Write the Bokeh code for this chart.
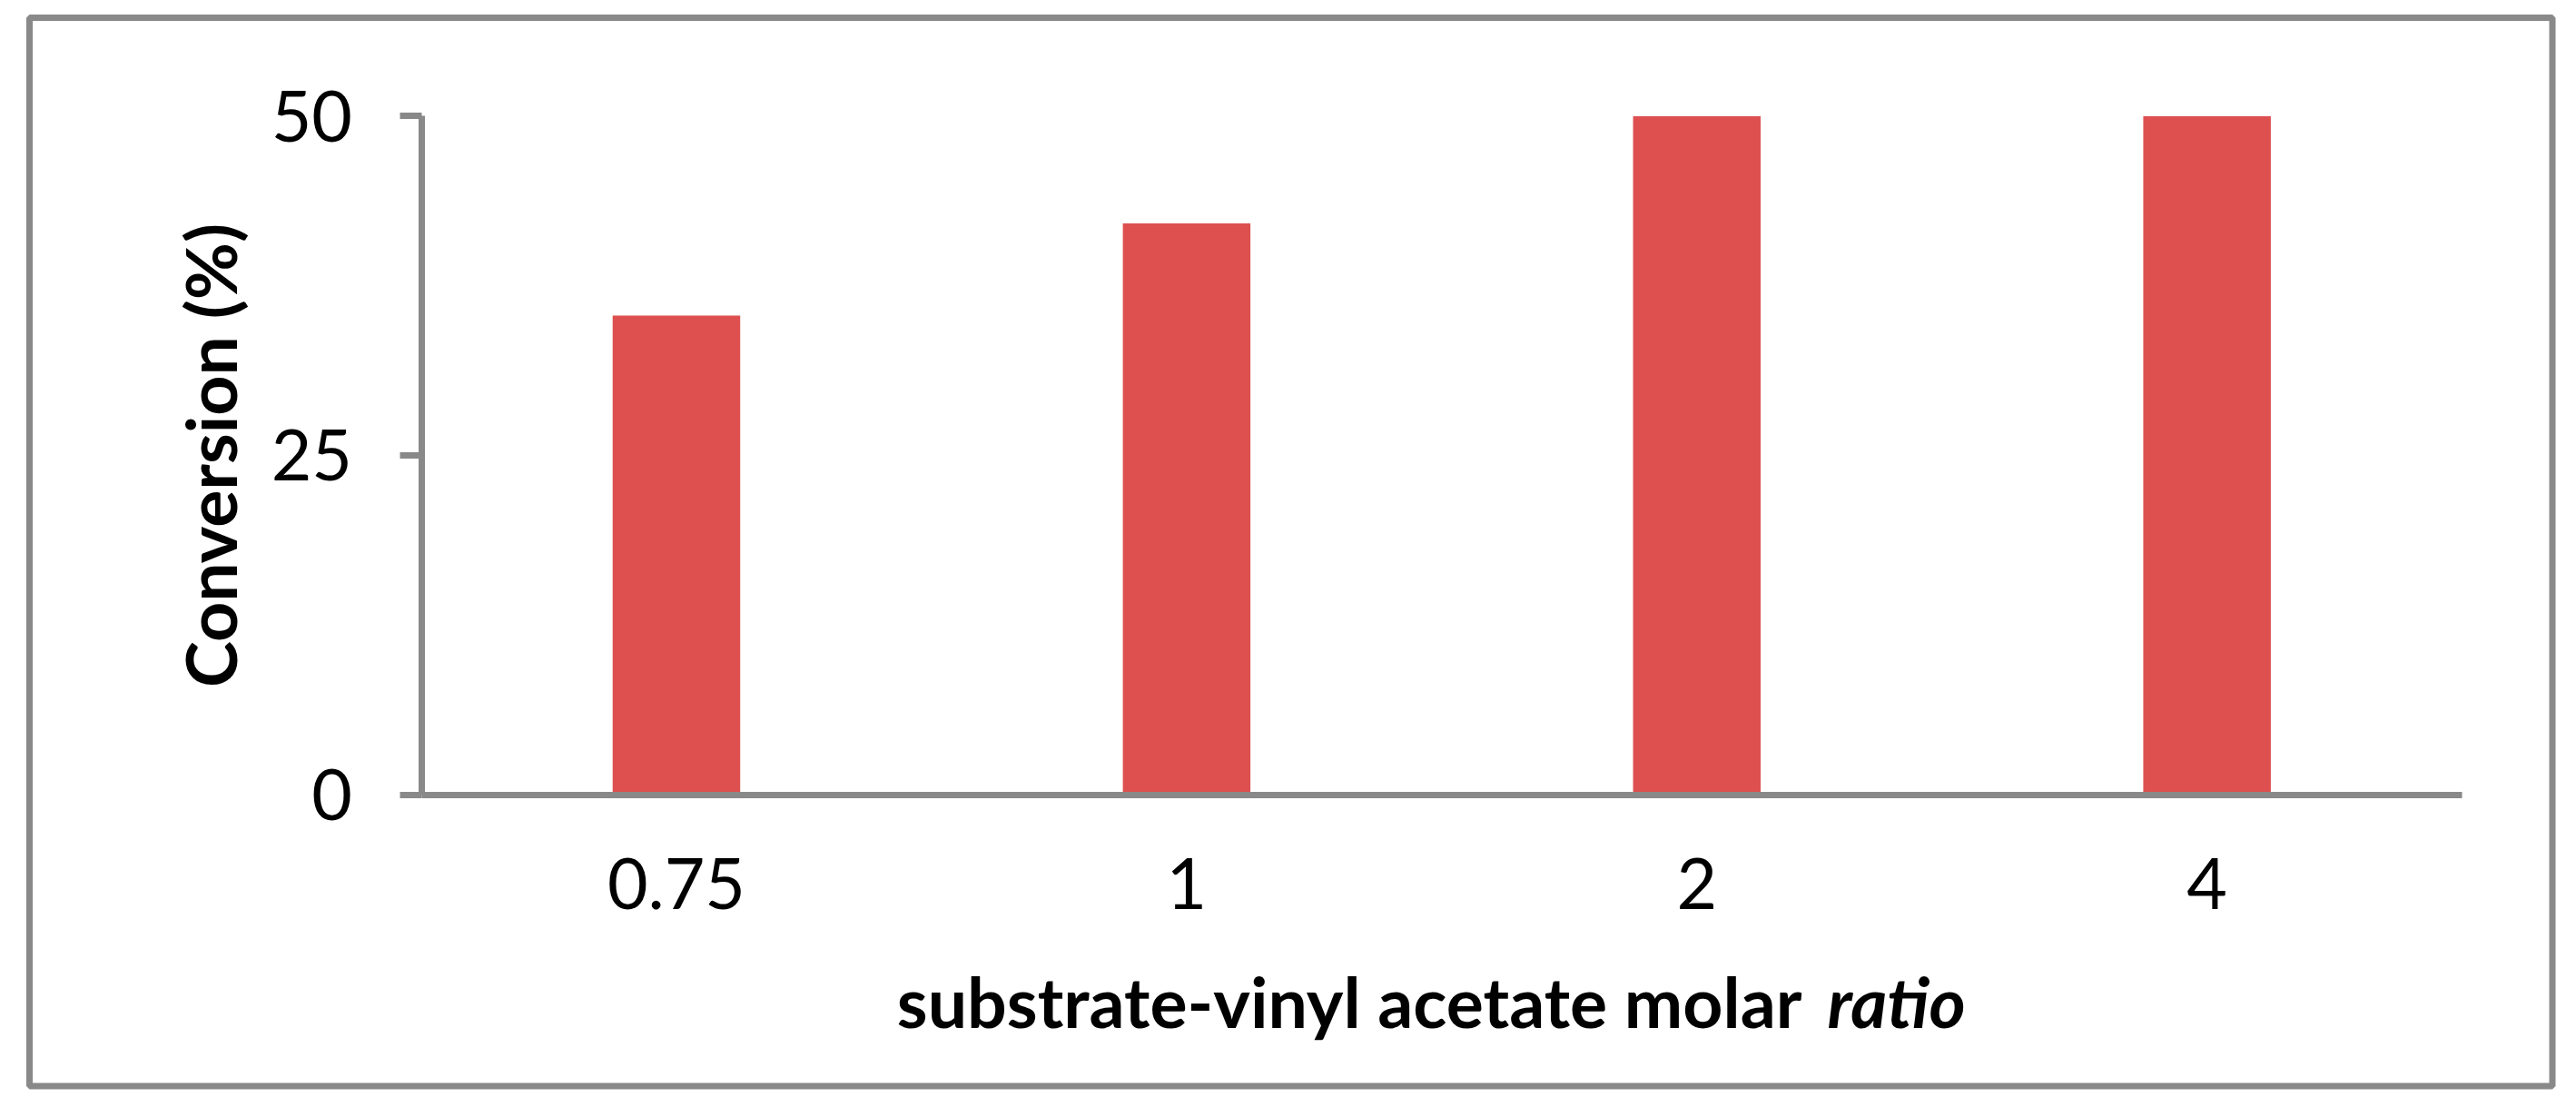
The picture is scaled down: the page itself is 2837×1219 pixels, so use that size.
from bokeh.plotting import figure
from bokeh.models import Range1d, FixedTicker, Label, BoxAnnotation, ColumnDataSource, LinearAxis
from bokeh.embed import file_html
from bokeh.resources import INLINE

# ---- data ----
ratios = ["0.75", "1", "2", "4"]
conversion = [35.3, 42.1, 50.0, 50.0]
y_ticks = [0, 25, 50]
x_title_main = "substrate-vinyl acetate molar"
x_title_italic = "ratio"
y_title = "Conversion (%)"

# ---- style ----
GRAY = "#898989"
BAR = "#DE5050"
FONT = "Lato"
TS = "77px"

W, H = 2820, 1200
# category slots are centred at i + 0.5 on a numeric axis
xpos = [i + 0.5 for i in range(len(ratios))]

src = ColumnDataSource(dict(x=xpos, top=conversion))

p = figure(width=W, height=H, x_range=Range1d(-0.8249, 4.1938), y_range=Range1d(-21.787, 58.534),
           output_backend="svg", toolbar_location=None, x_axis_location=None, y_axis_location=None,
           min_border_left=0, min_border_right=0, min_border_top=0, min_border_bottom=0)
p.background_fill_color = "white"
p.border_fill_color = "white"
p.outline_line_color = None
p.xgrid.visible = False
p.ygrid.visible = False

p.vbar(x="x", top="top", width=0.25, source=src, fill_color=BAR, line_color=None)

# x axis (fixed at y = 0)
xa = LinearAxis(fixed_location=0, bounds=(0, len(ratios)),
                ticker=FixedTicker(ticks=xpos),
                major_label_overrides={x: r for x, r in zip(xpos, ratios)})
xa.axis_line_color = GRAY
xa.axis_line_width = 7
xa.major_tick_line_color = None
xa.minor_tick_line_color = None
xa.major_tick_out = 0
xa.major_tick_in = 0
xa.major_label_standoff = 70
xa.major_label_text_font = FONT
xa.major_label_text_font_size = TS
xa.major_label_text_color = "black"
p.add_layout(xa, "below")

# y axis (fixed at x = 0)
ya = LinearAxis(fixed_location=0, bounds=(0, 50), ticker=FixedTicker(ticks=y_ticks))
ya.axis_line_color = GRAY
ya.axis_line_width = 7
ya.major_tick_line_color = GRAY
ya.major_tick_line_width = 7
ya.major_tick_out = 24
ya.major_tick_in = 0
ya.minor_tick_line_color = None
ya.major_label_standoff = 52
ya.major_label_text_font = FONT
ya.major_label_text_font_size = TS
ya.major_label_text_color = "black"
ya.axis_label = y_title
ya.axis_label_text_font = FONT
ya.axis_label_text_font_size = TS
ya.axis_label_text_font_style = "bold"
ya.axis_label_text_color = "black"
ya.axis_label_standoff = 19
p.add_layout(ya, "left")

# x title (mixed styles)
p.add_layout(Label(x=1984, y=99, x_units="screen", y_units="screen", text=x_title_main,
                   text_align="right", text_baseline="alphabetic", text_font=FONT,
                   text_font_size=TS, text_font_style="bold", text_color="black"))
p.add_layout(Label(x=2012, y=99, x_units="screen", y_units="screen", text=x_title_italic,
                   text_align="left", text_baseline="alphabetic", text_font=FONT,
                   text_font_size=TS, text_font_style="bold italic", text_color="black"))

# outer chart border
p.add_layout(BoxAnnotation(left=32, right=2810.5, bottom=4.5, top=1181,
                           left_units="screen", right_units="screen",
                           bottom_units="screen", top_units="screen",
                           fill_alpha=0, line_color=GRAY, line_alpha=1.0, line_width=7))

open("out.html", "w").write(file_html(p, INLINE))
